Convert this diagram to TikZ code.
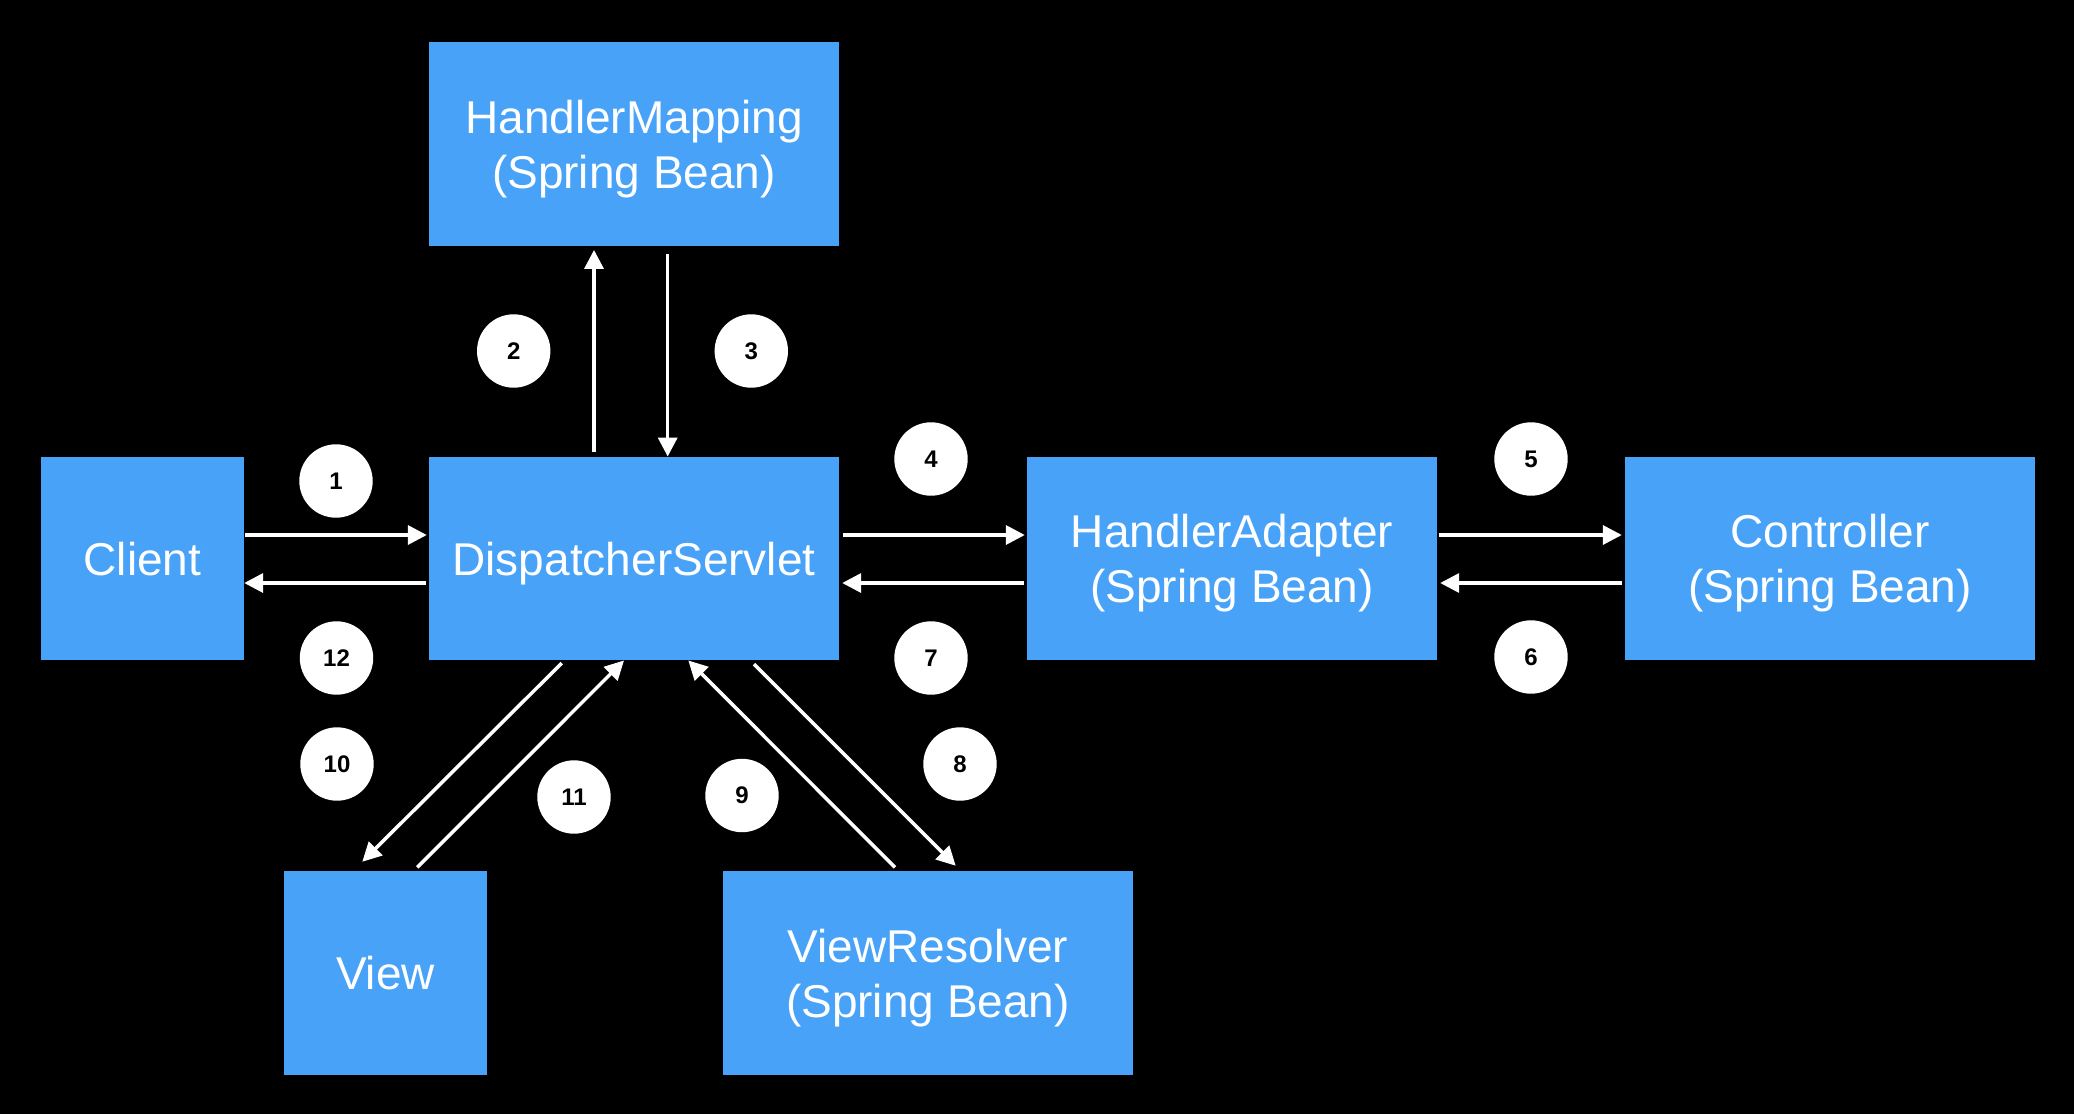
\documentclass[tikz,border=0pt]{standalone}
\usepackage{fontspec}
\setmainfont{Liberation Sans}
\usetikzlibrary{arrows.meta,calc}
\definecolor{boxblue}{RGB}{72,162,248}
\begin{document}
\begin{tikzpicture}[x=1pt,y=-1pt,
  box/.style={rectangle, fill=boxblue, text=white, inner sep=0pt, align=center,
    text depth=0pt, font=\fontsize{46}{55.3}\selectfont},
  wide/.style={box, minimum width=410pt, minimum height=203.5pt},
  narrow/.style={box, minimum width=203pt, minimum height=203.5pt},
  num/.style={circle, fill=white, text=black, inner sep=0pt, minimum size=73.4pt,
    text depth=0pt, font=\fontsize{24}{28}\selectfont\bfseries},
  flow/.style={draw=white, line width=3.5pt, -{Triangle[length=19pt,width=19pt]}}
]
\fill[black] (0,0) rectangle (2074,1114);
\useasboundingbox (0,0) rectangle (2074,1114);

% boxes
\node[narrow] (client) at (142.5,558.5) {Client};
\node[wide] (ds) at (634,558.5) {DispatcherServlet};
\node[wide] (hm) at (634,144) {HandlerMapping\\(Spring Bean)};
\node[wide] (ha) at (1232,558.5) {HandlerAdapter\\(Spring Bean)};
\node[wide] (ctrl) at (1830,558.5) {Controller\\(Spring Bean)};
\node[narrow] (view) at (385.5,973) {View};
\node[wide] (vr) at (928,973) {ViewResolver\\(Spring Bean)};

% step numbers
\node[num] (n1) at (336,481) {1};
\node[num] (n2) at (513.7,351) {2};
\node[num] (n3) at (751.3,351) {3};
\node[num] (n4) at (931,459) {4};
\node[num] (n5) at (1531,459) {5};
\node[num] (n6) at (1531,657) {6};
\node[num] (n7) at (931,658) {7};
\node[num] (n8) at (960,764) {8};
\node[num] (n9) at (742,795.5) {9};
\node[num] (n10) at (337,764) {10};
\node[num] (n11) at (574,797) {11};
\node[num] (n12) at (336.5,658) {12};

% horizontal connectors
\draw[flow] ($(client.east)+(1,-23.5)$) -- ($(ds.west)+(-2,-23.5)$);
\draw[flow] ($(ds.west)+(-3,24.5)$) -- ($(client.east)+(0,24.5)$);
\draw[flow] ($(ds.east)+(4,-23.5)$) -- ($(ha.west)+(-2,-23.5)$);
\draw[flow] ($(ha.west)+(-3,24.5)$) -- ($(ds.east)+(3,24.5)$);
\draw[flow] ($(ha.east)+(2,-23.5)$) -- ($(ctrl.west)+(-3,-23.5)$);
\draw[flow] ($(ctrl.west)+(-3,24.5)$) -- ($(ha.east)+(3,24.5)$);

% vertical connectors
\draw[flow] ($(ds.north)+(-40,-4.3)$) -- ($(hm.south)+(-40,4)$);
\draw[flow] ($(hm.south)+(33.7,8)$) -- ($(ds.north)+(33.7,0)$);

% diagonal connectors
\draw[flow] ($(ds.south)+(-72.3,2.7)$) -- ($(view.north)+(-23.2,-9.3)$);
\draw[flow] ($(view.north)+(31.8,-3.7)$) -- ($(ds.south)+(-10,0)$);
\draw[flow] ($(ds.south)+(120,3.7)$) -- ($(vr.north)+(27.7,-5.3)$);
\draw[flow] ($(vr.north)+(-33,-3.7)$) -- ($(ds.south)+(54.3,0)$);
\end{tikzpicture}
\end{document}
